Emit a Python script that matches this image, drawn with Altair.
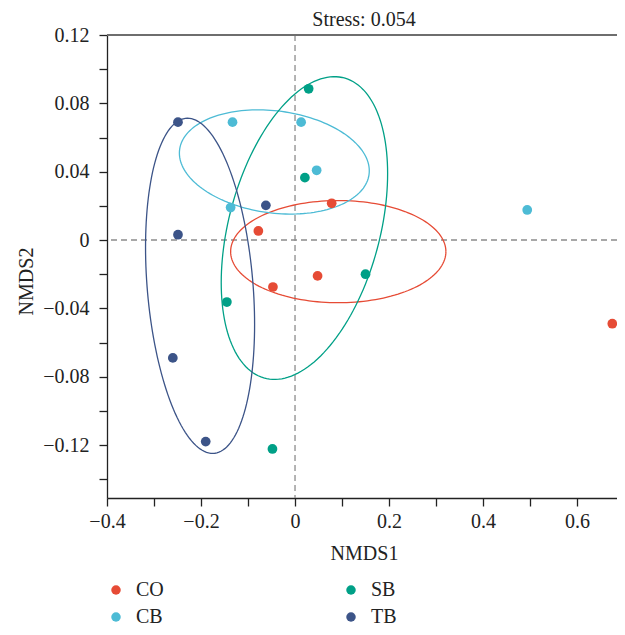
import altair as alt
import numpy as np
import pandas as pd

FONT = "Liberation Serif"
GROUPS = ["CO", "CB", "SB", "TB"]
COLORS = ["#E64B35", "#4DBBD5", "#00A087", "#3C5488"]

CO_X = [-0.078, 0.078, -0.047, 0.048, 0.675]
CO_Y = [0.0053, 0.0215, -0.0275, -0.021, -0.049]
CB_X = [-0.133, 0.013, 0.046, -0.137, 0.494]
CB_Y = [0.069, 0.069, 0.0408, 0.019, 0.0176]
SB_X = [0.029, 0.021, 0.150, -0.145, -0.048]
SB_Y = [0.0885, 0.0365, -0.020, -0.0363, -0.1223]
TB_X = [-0.249, -0.249, -0.062, -0.260, -0.190]
TB_Y = [0.069, 0.0031, 0.0203, -0.069, -0.118]

# confidence ellipses: centre, half-extent in x and y, tilt (correlation)
ELL_CX = [0.092, -0.044, 0.020, -0.202]
ELL_CY = [-0.0068, 0.0457, 0.0070, -0.0268]
ELL_RX = [0.229, 0.202, 0.177, 0.116]
ELL_RY = [0.0299, 0.0305, 0.0886, 0.0981]
ELL_RHO = [0.0, -0.17, 0.36, -0.23]

X_TICKS = [-0.4, -0.3, -0.2, -0.1, 0.0, 0.1, 0.2, 0.3, 0.4, 0.5, 0.6]
Y_TICKS = [-0.14, -0.12, -0.10, -0.08, -0.06, -0.04, -0.02, 0.0, 0.02, 0.04, 0.06, 0.08, 0.10, 0.12]
X_DOMAIN = [-0.4, 0.685]
Y_DOMAIN = [-0.151, 0.12]

pts = pd.DataFrame({
    "group": ["CO"] * 5 + ["CB"] * 5 + ["SB"] * 5 + ["TB"] * 5,
    "x": CO_X + CB_X + SB_X + TB_X,
    "y": CO_Y + CB_Y + SB_Y + TB_Y,
})

rows = []
N = 160
for g, cx, cy, rx, ry, rho in zip(GROUPS, ELL_CX, ELL_CY, ELL_RX, ELL_RY, ELL_RHO):
    for i in range(N + 1):
        t = 2 * np.pi * i / N
        rows.append({
            "group": g, "i": i,
            "x": cx + rx * np.cos(t),
            "y": cy + ry * (rho * np.cos(t) + np.sqrt(1 - rho ** 2) * np.sin(t)),
        })
ell = pd.DataFrame(rows)

xsc = alt.Scale(domain=X_DOMAIN, nice=False, zero=False)
ysc = alt.Scale(domain=Y_DOMAIN, nice=False, zero=False)
csc = alt.Scale(domain=GROUPS, range=COLORS)

INK = "#222222"

x_axis = alt.Axis(
    values=X_TICKS,
    labelExpr="abs(round(datum.value*10)) % 2 == 0 ? (abs(datum.value) < 1e-9 ? '0' : replace(format(datum.value, '.1f'), '-', '\u2212')) : ''",
    tickSize=8, tickColor=INK, tickWidth=1.3, domainColor=INK, domainWidth=1.3,
    labelFont=FONT, labelFontSize=20, labelColor=INK, labelPadding=5,
    labelFlush=False, labelOverlap=False, grid=False,
    title="NMDS1", titleFont=FONT, titleFontSize=20, titleFontWeight="normal",
    titleColor=INK, titleX=257, titleY=61, titleBaseline="alphabetic", titleAlign="center",
)
y_axis = alt.Axis(
    values=Y_TICKS,
    labelExpr="abs(round(datum.value*100)) % 4 == 0 ? (abs(datum.value) < 1e-9 ? '0' : replace(format(datum.value, '.2f'), '-', '\u2212')) : ''",
    tickSize=8, tickColor=INK, tickWidth=1.3, domainColor=INK, domainWidth=1.3,
    labelFont=FONT, labelFontSize=20, labelColor=INK, labelPadding=10,
    labelFlush=False, labelOverlap=False, grid=False,
    title="NMDS2", titleFont=FONT, titleFontSize=20, titleFontWeight="normal",
    titleColor=INK, titleX=-75, titleY=246, titleAngle=270,
    titleBaseline="alphabetic", titleAlign="center",
)

one = pd.DataFrame({"v": [0]})

vrule = alt.Chart(one).mark_rule(color="#8c8c8c", strokeDash=[6, 4], strokeWidth=1.3).encode(
    x=alt.datum(0, scale=xsc, axis=x_axis))
hrule = alt.Chart(one).mark_rule(color="#8c8c8c", strokeDash=[6, 4], strokeWidth=1.3).encode(
    y=alt.datum(0, scale=ysc, axis=y_axis))
toprule = alt.Chart(one).mark_rule(color="#6e6e6e", strokeWidth=2).encode(
    y=alt.datum(0.12, scale=ysc, axis=y_axis))

lines = alt.Chart(ell).mark_line(strokeWidth=1.3).encode(
    x=alt.X("x:Q", scale=xsc, axis=x_axis),
    y=alt.Y("y:Q", scale=ysc, axis=y_axis),
    color=alt.Color("group:N", scale=csc, legend=None),
    detail="group:N",
    order="i:Q",
)

points = alt.Chart(pts).mark_circle(size=95, opacity=1).encode(
    x=alt.X("x:Q", scale=xsc, axis=x_axis),
    y=alt.Y("y:Q", scale=ysc, axis=y_axis),
    color=alt.Color("group:N", scale=csc, legend=alt.Legend(
        title=None, orient="none", legendX=-1, legendY=545, columns=2,
        columnPadding=177, rowPadding=7, labelOffset=10, padding=0,
        labelFont=FONT, labelFontSize=20, labelColor=INK,
        symbolType="circle", symbolSize=90, symbolStrokeWidth=0, symbolOpacity=1,
    )),
)

chart = alt.layer(hrule, vrule, toprule, lines, points).resolve_legend(color="independent").properties(
    width=510, height=463,
    padding={"left": 99, "top": 27, "right": 0, "bottom": 129},
    autosize=alt.AutoSizeParams(type="none"),
    title=alt.TitleParams("Stress: 0.054", font=FONT, fontSize=20, fontWeight="normal",
                          color=INK, anchor="middle", baseline="alphabetic", offset=4, dy=25, dx=2,
                          frame="group"),
).configure_view(stroke=None)

chart.save("out.html", embed_options={"renderer": "svg", "actions": False})
